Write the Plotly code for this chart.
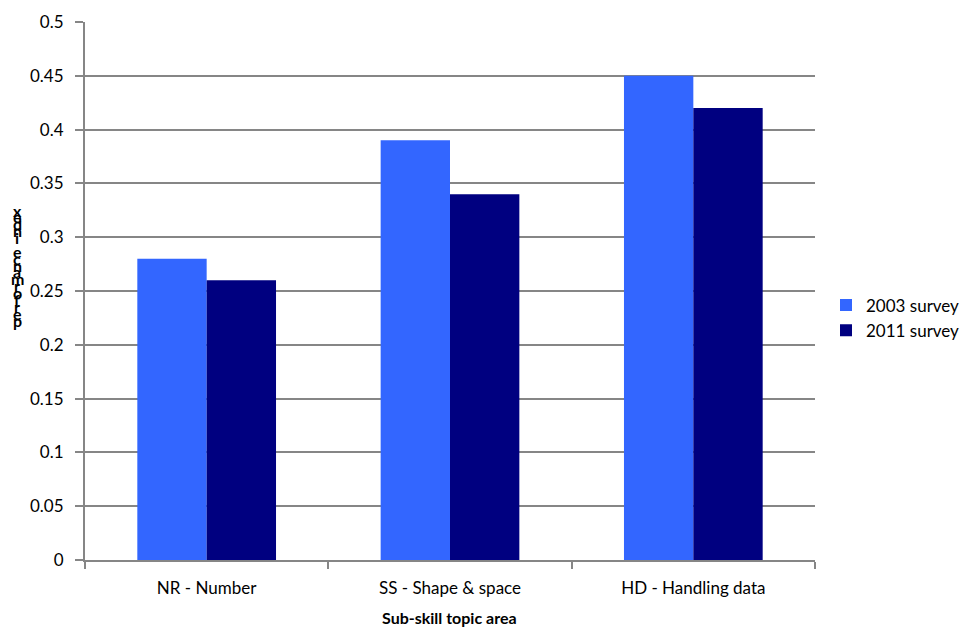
import plotly.graph_objects as go

categories = ["NR - Number", "SS - Shape & space", "HD - Handling data"]
survey_2003 = [0.28, 0.39, 0.45]
survey_2011 = [0.26, 0.34, 0.42]
series_names = ["2003 survey", "2011 survey"]
ytick_vals = [0, 0.05, 0.1, 0.15, 0.2, 0.25, 0.3, 0.35, 0.4, 0.45, 0.5]
ytick_text = ["0", "0.05", "0.1", "0.15", "0.2", "0.25", "0.3", "0.35", "0.4", "0.45", "0.5"]
y_title = "performance index"

FONT = "Lato, Open Sans, Arial, sans-serif"

fig = go.Figure()
fig.add_trace(go.Bar(x=categories, y=survey_2003, name=series_names[0],
                     marker=dict(color="#3366FF", line=dict(width=0))))
fig.add_trace(go.Bar(x=categories, y=survey_2011, name=series_names[1],
                     marker=dict(color="#000080", line=dict(width=0))))

# page body has an 8px margin; figure drawn at (8, 8)
OFF = 8
W, H = 978 - OFF, 632 - OFF
L, R, T, B = 85 - OFF, 163, 22 - OFF, 72
pw, ph = W - L - R, H - T - B


def px_x(x):  # reference pixel x -> paper x
    return (x - 85) / pw


def px_y(y):  # reference pixel y -> paper y
    return (560 - y) / ph


# stacked vertical axis title (letters upright, overlapping)
chars = list(y_title)[::-1]
top_px, bot_px = 210, 320
n = len(chars)
for i, c in enumerate(chars):
    ypx = top_px + (bot_px - top_px) * i / (n - 1)
    fig.add_annotation(text="<b>" + c + "</b>" if c != " " else " ",
                       xref="paper", yref="paper",
                       x=px_x(17), y=px_y(ypx),
                       showarrow=False, font=dict(family=FONT, size=16, color="black"),
                       xanchor="center", yanchor="middle")

fig.add_annotation(text="<b>Sub-skill topic area</b>", xref="paper", yref="paper",
                   x=px_x(449), y=px_y(617), showarrow=False,
                   font=dict(family=FONT, size=16, color="black"),
                   xanchor="center", yanchor="middle")

fig.update_layout(
    width=W, height=H,
    margin=dict(l=L, r=R, t=T, b=B, autoexpand=False),
    paper_bgcolor="white", plot_bgcolor="white",
    barmode="group", bargap=0.43, bargroupgap=0,
    font=dict(family=FONT, size=17, color="black"),
    showlegend=True,
    legend=dict(x=px_x(826), y=px_y(318), xanchor="left", yanchor="middle",
                font=dict(family=FONT, size=17, color="black"),
                itemwidth=30, bgcolor="rgba(0,0,0,0)"),
    xaxis=dict(showline=True, linecolor="#868686", linewidth=2,
               ticks="outside", tickson="boundaries", ticklen=7, tickwidth=2,
               tickcolor="#868686", showgrid=False, automargin=False,
               tickfont=dict(size=17), ticklabelstandoff=12),
    yaxis=dict(range=[0, 0.5], tickvals=ytick_vals, ticktext=ytick_text,
               showline=True, linecolor="#868686", linewidth=2,
               ticks="outside", ticklen=8, tickwidth=2, tickcolor="#868686",
               showgrid=True, gridcolor="#868686", gridwidth=2,
               zeroline=False, tickfont=dict(size=17), automargin=False,
               ticklabelstandoff=8),
)

fig.write_html("out.html")
